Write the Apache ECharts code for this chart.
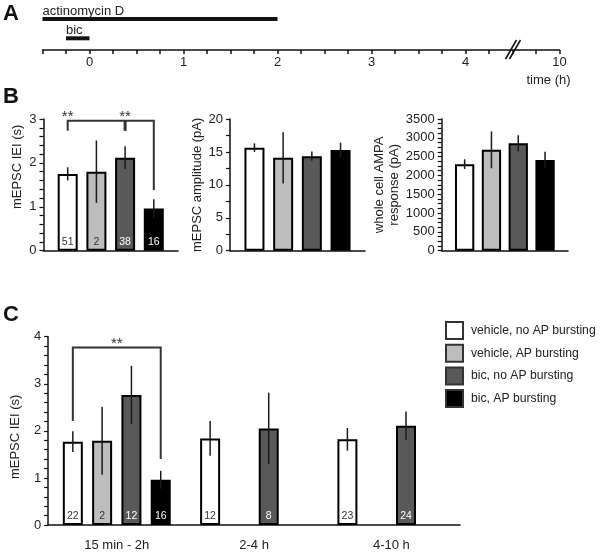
<!DOCTYPE html>
<html><head><meta charset="utf-8">
<script src="https://cdn.jsdelivr.net/npm/echarts@6/dist/echarts.min.js"></script>
<style>html,body{margin:0;padding:0;background:#fff}#c{width:600px;height:553px}</style>
</head><body><div id="c"></div>
<script>
// ===== data =====
const conditions = ['vehicle, no AP bursting', 'vehicle, AP bursting', 'bic, no AP bursting', 'bic, AP bursting'];

// panel A: timeline
const timelineNames = ['actinomycin D', 'bic'];
const timelineStart = [-0.5, -0.25];
const timelineEnd = [2, 0];
const timeTickValues = [0, 1, 2, 3, 4, 5];
const timeTickLabels = ['0', '1', '2', '3', '4', '10'];
const timeBreakAt = 4.5;
const timeAxisTitle = 'time (h)';

// panel B (one value per condition)
const ieiMean = [1.75, 1.80, 2.12, 0.96];
const ieiSem = [0.15, 0.71, 0.26, 0.21];
const ieiN = [51, 2, 38, 16];
const ampMean = [15.65, 14.1, 14.35, 15.3];
const ampSem = [0.65, 3.9, 0.7, 1.1];
const ampaMean = [2300, 2680, 2855, 2410];
const ampaSem = [130, 490, 210, 220];

// panel C (per time group)
const timeGroups = ['15 min - 2h', '2-4 h', '4-10 h'];
const cVehNoMean = [1.77, 1.84, 1.82];
const cVehNoSem = [0.22, 0.37, 0.24];
const cVehNoN = [22, 12, 23];
const cVehApMean = [1.79, null, null];
const cVehApSem = [0.72, null, null];
const cVehApN = [2, null, null];
const cBicNoMean = [2.76, 2.05, 2.11];
const cBicNoSem = [0.62, 0.76, 0.30];
const cBicNoN = [12, 8, 24];
const cBicApMean = [0.96, null, null];
const cBicApSem = [0.19, null, null];
const cBicApN = [16, null, null];

// significance brackets (bar indices / values in axis units)
const bracketB = {from: 0, to: 3, top: 2.96, leftEnd: 2.73, rightEnd: 1.38, mid: 2, midEnd: 2.73, stars: [0, 2]};
const bracketC = {from: 0, to: 3, top: 3.77, leftEnd: 2.21, rightEnd: 1.40, mid: null, stars: [1.5]};

// ===== styles =====
const FONT = '"Liberation Sans", Arial, sans-serif';
const fills = ['#ffffff', '#bdbdbd', '#595959', '#000000'];
const nColors = ['#333', '#333', '#fff', '#fff'];
const INK = '#111';

const chart = echarts.init(document.getElementById('c'), null, {renderer: 'canvas'});

const grids = [
  {left: 42.5, right: 40.5, top: 0, height: 50},            // A
  {left: 43.5, width: 134.5, top: 119, height: 131.7},      // B1
  {left: 230, width: 135, top: 119, height: 131.7},         // B2
  {left: 441.7, width: 126.3, top: 119, height: 131.7},     // B3
  {left: 45, width: 415, top: 336.7, height: 188.3}         // C
];

const xAxes = [];
const yAxes = [];
const series = [];

// ---- Panel A ----
xAxes.push({
  type: 'value', gridIndex: 0, min: -0.5, max: 5, interval: 0.25,
  axisLine: {show: true, lineStyle: {color: INK, width: 1.5}},
  axisTick: {show: true, length: 4, lineStyle: {color: INK, width: 1.5}},
  splitLine: {show: false},
  axisLabel: {
    margin: 6, fontSize: 13, color: '#222', fontFamily: FONT,
    formatter: v => { const i = timeTickValues.indexOf(Math.round(v * 100) / 100); return i >= 0 ? timeTickLabels[i] : ''; }
  }
});
yAxes.push({type: 'value', gridIndex: 0, min: 0, max: 1, show: false});
const rowLevels = [0.62, 0.234];
series.push({
  type: 'custom', xAxisIndex: 0, yAxisIndex: 0, silent: true,
  data: timelineNames.map((n, i) => [timelineStart[i], timelineEnd[i], i]),
  renderItem: (params, api) => {
    const i = api.value(2);
    const p0 = api.coord([api.value(0), rowLevels[i]]);
    const p1 = api.coord([api.value(1), rowLevels[i]]);
    return {type: 'group', children: [
      {type: 'rect', shape: {x: p0[0], y: p0[1] - 2, width: p1[0] - p0[0], height: 4}, style: {fill: '#111'}},
      {type: 'text', x: p0[0], y: p0[1] - 1, style: {text: timelineNames[i], font: '13px ' + FONT, fill: '#222', textAlign: 'left', textVerticalAlign: 'bottom'}}
    ]};
  }
});

// ---- helpers for bar panels ----
function yAxis(g, max, interval, minorSplit, name, nameGap, nameShift) {
  return {
    type: 'value', gridIndex: g, min: 0, max: max, interval: interval,
    axisLine: {show: true, lineStyle: {color: INK, width: 1.5}},
    axisTick: {show: true, length: 4, lineStyle: {color: INK, width: 1.2}},
    minorTick: {show: true, splitNumber: minorSplit, length: 4, lineStyle: {color: INK, width: 1.2}},
    splitLine: {show: false}, minorSplitLine: {show: false},
    axisLabel: {color: '#222', fontSize: 13, margin: 7, fontFamily: FONT, formatter: v => String(v)},
    name: name, nameLocation: 'middle', nameGap: nameGap, nameRotate: 90,
    nameTextStyle: {color: '#222', fontSize: 13, fontFamily: FONT, lineHeight: 15,
      padding: nameShift > 0 ? [0, 0, 0, nameShift] : [0, -nameShift, 0, 0]}
  };
}
function xCat(g, data, showLabels) {
  return {
    type: 'category', gridIndex: g, data: data,
    axisLine: {show: true, lineStyle: {color: INK, width: 1.5}},
    axisTick: {show: false},
    axisLabel: {show: showLabels, fontSize: 13, color: '#222', margin: 14, fontFamily: FONT}
  };
}
function addBars(g, means, sems, ns, barWidth, spacing) {
  const gap = ((spacing - barWidth) / barWidth * 100).toFixed(1) + '%';
  for (let k = 0; k < 4; k++) {
    series.push({
      type: 'bar', name: conditions[k], xAxisIndex: g, yAxisIndex: g,
      data: means[k].map(v => v == null ? '-' : v),
      barWidth: barWidth, barGap: gap,
      itemStyle: {color: fills[k], borderColor: '#000', borderWidth: 2},
      label: {
        show: !!ns, position: 'insideBottom', distance: 3, fontSize: 10.5, fontFamily: FONT, color: nColors[k],
        formatter: p => (ns && ns[k][p.dataIndex] != null) ? String(ns[k][p.dataIndex]) : ''
      },
      emphasis: {disabled: true}, silent: true
    });
  }
  const errData = [];
  for (let k = 0; k < 4; k++) {
    means[k].forEach((m, c) => { if (m != null) errData.push([c, k, m, sems[k][c]]); });
  }
  series.push({
    type: 'custom', xAxisIndex: g, yAxisIndex: g, z: 5, silent: true,
    encode: {x: 0, y: 2},
    data: errData,
    renderItem: (params, api) => {
      const x = api.coord([api.value(0), 0])[0] + (api.value(1) - 1.5) * spacing;
      const yT = api.coord([api.value(0), api.value(2) + api.value(3)])[1];
      const yB = api.coord([api.value(0), api.value(2) - api.value(3)])[1];
      return {type: 'line', shape: {x1: x, y1: yT, x2: x, y2: yB}, style: {stroke: '#1a1a1a', lineWidth: 1.5}};
    }
  });
}
function addBracket(g, b, spacing) {
  series.push({
    type: 'custom', xAxisIndex: g, yAxisIndex: g, z: 6, silent: true, clip: false,
    data: [[0, b.top]],
    renderItem: (params, api) => {
      const cx = i => api.coord([0, 0])[0] + (i - 1.5) * spacing;
      const Y = v => api.coord([0, v])[1];
      const ch = [{type: 'polyline', shape: {points: [[cx(b.from), Y(b.leftEnd)], [cx(b.from), Y(b.top)], [cx(b.to), Y(b.top)], [cx(b.to), Y(b.rightEnd)]]},
        style: {stroke: '#333', lineWidth: 2, fill: null}}];
      if (b.mid != null) ch.push({type: 'line', shape: {x1: cx(b.mid), y1: Y(b.top), x2: cx(b.mid), y2: Y(b.midEnd)}, style: {stroke: '#333', lineWidth: 3}});
      b.stars.forEach(s => ch.push({type: 'text', x: cx(s), y: Y(b.top) + 4,
        style: {text: '**', font: '15px ' + FONT, fill: '#333', textAlign: 'center', textVerticalAlign: 'bottom'}}));
      return {type: 'group', children: ch};
    }
  });
}

// ---- Panel B ----
xAxes.push(xCat(1, [''], false));
yAxes.push(yAxis(1, 3, 1, 5, 'mEPSC IEI (s)', 12, 36));
addBars(1, ieiMean.map(v => [v]), ieiSem.map(v => [v]), ieiN.map(v => [v]), 20, 28.7);
addBracket(1, bracketB, 28.7);

xAxes.push(xCat(2, [''], false));
yAxes.push(yAxis(2, 20, 5, 2, 'mEPSC amplitude (pA)', 25, 0));
addBars(2, ampMean.map(v => [v]), ampSem.map(v => [v]), null, 20, 28.7);

xAxes.push(xCat(3, [''], false));
yAxes.push(yAxis(3, 3500, 500, 4, 'whole cell AMPA\nresponse (pA)', 38, 0));
addBars(3, ampaMean.map(v => [v]), ampaSem.map(v => [v]), null, 19.3, 26.8);

// ---- Panel C ----
xAxes.push(xCat(4, timeGroups, true));
yAxes.push(yAxis(4, 4, 1, 5, 'mEPSC IEI (s)', 17, -12));
addBars(4, [cVehNoMean, cVehApMean, cBicNoMean, cBicApMean],
  [cVehNoSem, cVehApSem, cBicNoSem, cBicApSem],
  [cVehNoN, cVehApN, cBicNoN, cBicApN], 20, 29.3);
addBracket(4, bracketC, 29.3);

const letterStyle = {font: 'bold 22px ' + FONT, fill: '#111', textVerticalAlign: 'middle'};
chart.setOption({
  animation: false,
  textStyle: {fontFamily: FONT},
  grid: grids,
  xAxis: xAxes,
  yAxis: yAxes,
  legend: {
    data: conditions, orient: 'vertical', left: 440, top: 316, itemWidth: 17, itemHeight: 17, itemGap: 3.7,
    selectedMode: false, icon: 'rect',
    itemStyle: {borderColor: '#333', borderWidth: 2},
    textStyle: {fontSize: 12.2, color: '#222', fontFamily: FONT, padding: [0, 0, 0, 3]}
  },
  graphic: [
    {id: 'lA', type: 'text', left: 3, top: 3, style: Object.assign({text: 'A'}, letterStyle)},
    {id: 'lB', type: 'text', left: 3, top: 86, style: Object.assign({text: 'B'}, letterStyle)},
    {id: 'lC', type: 'text', left: 3, top: 304, style: Object.assign({text: 'C'}, letterStyle)}
  ],
  series: series
});

// axis break marker and axis title on timeline
const bp = chart.convertToPixel({gridIndex: 0}, [timeBreakAt, 0]);
const ep = chart.convertToPixel({gridIndex: 0}, [timeTickValues[timeTickValues.length - 1], 0]);
chart.setOption({
  graphic: [
    {id: 'brk1', type: 'line', shape: {x1: bp[0] - 7, y1: bp[1] + 9, x2: bp[0] + 4, y2: bp[1] - 10}, style: {stroke: '#111', lineWidth: 1.5}},
    {id: 'brk2', type: 'line', shape: {x1: bp[0] - 3, y1: bp[1] + 9, x2: bp[0] + 8, y2: bp[1] - 10}, style: {stroke: '#111', lineWidth: 1.5}},
    {id: 'tname', type: 'text', x: ep[0] - 11, y: ep[1] + 30,
      style: {text: timeAxisTitle, font: '13px ' + FONT, fill: '#222', textAlign: 'center', textVerticalAlign: 'middle'}}
  ]
});
</script>
</body></html>
